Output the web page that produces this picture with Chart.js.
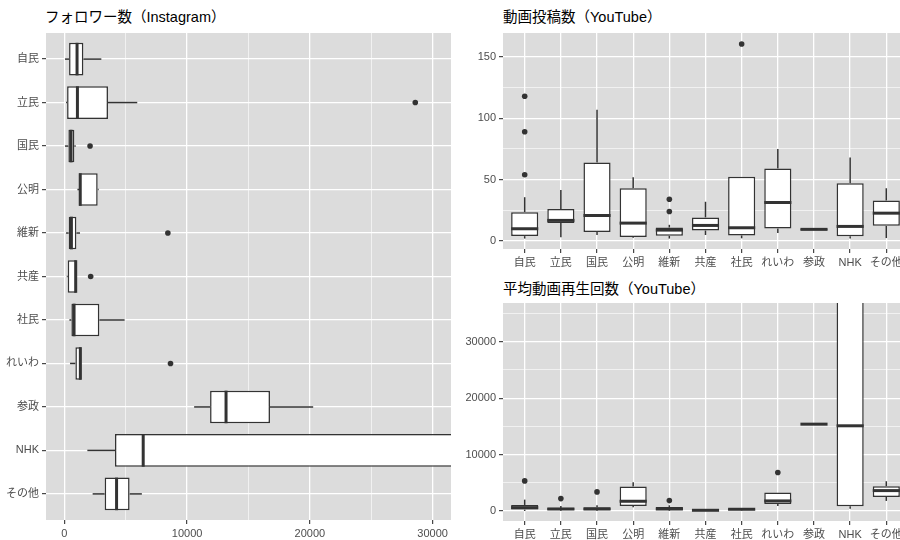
<!DOCTYPE html>
<html><head><meta charset="utf-8">
<script src="https://cdn.jsdelivr.net/npm/chart.js@4/dist/chart.umd.min.js"></script>
<style>
html,body{margin:0;padding:0;background:#fff;width:900px;height:540px;overflow:hidden;position:relative;}
canvas{position:absolute;}
.ttl{position:absolute;font-family:'Liberation Sans','Noto Sans CJK JP',sans-serif;font-size:14.5px;font-weight:normal;color:#000;white-space:nowrap;line-height:1;}
</style></head>
<body>
<div class="ttl" style="left:45px;top:10px;">フォロワー数（Instagram）</div>
<div class="ttl" style="left:503px;top:10px;">動画投稿数（YouTube）</div>
<div class="ttl" style="left:503px;top:282px;">平均動画再生回数（YouTube）</div>
<canvas id="c1" width="460" height="540" style="left:0;top:0;"></canvas>
<canvas id="c2" width="460" height="270" style="left:460px;top:0;"></canvas>
<canvas id="c3" width="460" height="270" style="left:460px;top:270px;"></canvas>
<script>
// ---- data ----
const parties = ['自民','立民','国民','公明','維新','共産','社民','れいわ','参政','NHK','その他'];

// Instagram followers (box stats)
const igLow  = [50, 135, 50, 1060, 135, 190, 405, 460, 10570, 1870, 2300];
const igQ1   = [380, 220, 325, 1190, 350, 270, 570, 895, 11870, 4120, 3280];
const igMed  = [1030, 1060, 540, 1290, 570, 920, 785, 1300, 13170, 6420, 4250];
const igQ3   = [1545, 3550, 810, 2710, 975, 975, 2845, 1380, 16750, 60000, 5310];
const igHigh = [3010, 5935, 920, 2790, 1270, 975, 4905, 1380, 20270, 90000, 6310];
const igOut  = [[], [28590], [2090], [], [8430], [2140], [], [8645], [], [], []];
const igTicks = [0, 10000, 20000, 30000];

// YouTube video posts
const ypLow  = [2, 3, 5, 2.7, 2, 4.9, 2.2, 6.5, 9, 2, 2.4];
const ypQ1   = [4, 14.6, 7.3, 3.2, 4.3, 8.6, 4.6, 10.3, 9, 3.8, 12.4];
const ypMed  = [10, 16.8, 20.8, 14.6, 8.9, 12.7, 10.8, 31.4, 9.5, 11.9, 22.7];
const ypQ3   = [23.5, 26, 64, 43, 11, 19.2, 52.4, 59, 10, 47, 33];
const ypHigh = [35.7, 41.6, 107, 52, 13.2, 32, 52.4, 75, 10, 68, 43];
const ypOut  = [[54, 89, 118], [], [], [], [24, 34], [], [160.5], [], [], [], []];
const ypTicks = [0, 50, 100, 150];

// YouTube average views
const yvLow  = [0, 0, 0, 650, 0, 0, 100, 890, 15390, 400, 1780];
const yvQ1   = [240, 120, 120, 890, 120, 60, 180, 1245, 15390, 830, 2490];
const yvMed  = [590, 355, 355, 1720, 355, 120, 300, 1780, 15390, 15100, 3610];
const yvQ3   = [1065, 530, 650, 4320, 710, 240, 410, 3260, 15390, 60000, 4380];
const yvHigh = [2010, 900, 1000, 5090, 1000, 300, 500, 3260, 15390, 90000, 5270];
const yvOut  = [[5330], [2190], [3375], [], [1835], [], [], [6810], [], [], []];
const yvTicks = [0, 10000, 20000, 30000];

// ---- styling ----
Chart.defaults.font.family = "'Liberation Sans','Noto Sans CJK JP',sans-serif";
Chart.defaults.font.size = 11;
Chart.defaults.color = '#4d4d4d';
Chart.defaults.devicePixelRatio = 1;
const PANEL = '#dcdcdc';
const LINE = '#333333';
const BOXW = 1.5;

const panelBg = {
  id: 'panelBg',
  beforeDraw(chart) {
    const a = chart.chartArea, c = chart.ctx;
    c.save(); c.fillStyle = PANEL; c.fillRect(a.left, a.top, a.right - a.left, a.bottom - a.top); c.restore();
  }
};

const boxLines = {
  id: 'boxLines',
  beforeDatasetsDraw(chart) { drawParts(chart, 'whisk'); },
  afterDatasetsDraw(chart) { drawParts(chart, 'median'); }
};
function segLine(c, hz, vS, v0, v1, p) {
  const a0 = vS.getPixelForValue(v0), a1 = vS.getPixelForValue(v1);
  c.beginPath();
  if (hz) { c.moveTo(a0, p); c.lineTo(a1, p); } else { c.moveTo(p, a0); c.lineTo(p, a1); }
  c.stroke();
}
function drawParts(chart, part) {
  const o = chart.options.plugins.boxLines; if (!o) return;
  const a = chart.chartArea, c = chart.ctx;
  const hz = o.horizontal;
  const iS = hz ? chart.scales.y : chart.scales.x;
  const vS = hz ? chart.scales.x : chart.scales.y;
  c.save();
  c.beginPath(); c.rect(a.left, a.top, a.right - a.left, a.bottom - a.top); c.clip();
  c.strokeStyle = LINE; c.lineCap = 'butt';
  for (let i = 0; i < o.med.length; i++) {
    const p = iS.getPixelForValue(i + 1);
    const p0 = iS.getPixelForValue(i + 1 - 0.375), p1 = iS.getPixelForValue(i + 1 + 0.375);
    if (part === 'whisk') {
      c.lineWidth = BOXW;
      if (o.low[i] < o.q1[i]) segLine(c, hz, vS, o.low[i], o.q1[i], p);
      if (o.high[i] > o.q3[i]) segLine(c, hz, vS, o.q3[i], o.high[i], p);
    } else {
      c.lineWidth = 3;
      const m = vS.getPixelForValue(o.med[i]);
      c.beginPath();
      if (hz) { c.moveTo(m, p0); c.lineTo(m, p1); } else { c.moveTo(p0, m); c.lineTo(p1, m); }
      c.stroke();
    }
  }
  c.restore();
}

function valueAxis(min, max, step, majors, extra) {
  return Object.assign({
    type: 'linear', min, max, offset: false,
    afterBuildTicks(s) {
      const t = [];
      for (let v = Math.ceil(min / step) * step; v <= max; v += step) t.push({ value: v });
      s.ticks = t;
    },
    ticks: { padding: 3, callback: v => majors.includes(v) ? String(v) : '', autoSkip: false, maxRotation: 0, minRotation: 0, color: '#4d4d4d' },
    grid: {
      offset: false,
      color: '#ffffff',
      lineWidth: ctx => majors.includes(ctx.tick && ctx.tick.value) ? 1.3 : 0.6,
      tickColor: ctx => majors.includes(ctx.tick && ctx.tick.value) ? LINE : 'rgba(0,0,0,0)',
      tickLength: 4, tickWidth: 1.1, drawTicks: true
    },
    border: { display: false }
  }, extra || {});
}
function catAxis(extra) {
  return Object.assign({
    type: 'linear', min: 0.4, max: 11.6, offset: false,
    afterBuildTicks(s) { s.ticks = parties.map((_, i) => ({ value: i + 1 })); },
    ticks: { padding: 3, autoSkip: false, maxRotation: 0, minRotation: 0, callback: v => parties[Math.round(v) - 1] || '', color: '#4d4d4d' },
    grid: { color: '#ffffff', lineWidth: 1.3, tickColor: LINE, tickLength: 4, tickWidth: 1.1, offset: false },
    border: { display: false }
  }, extra || {});
}
function fixFit(w, h) {
  return function (s) {
    if (w !== null) s.width = w;
    if (h !== null) s.height = h;
    s.paddingLeft = 0; s.paddingRight = 0; s.paddingTop = 0; s.paddingBottom = 0;
  };
}
function outPoints(out, hz) {
  const pts = [];
  out.forEach((arr, i) => arr.forEach(v => pts.push(hz ? { x: v, y: i + 1 } : { x: i + 1, y: v })));
  return pts;
}
function boxData(q1, q3, hz) {
  return q1.map((v, i) => hz ? { y: i + 1, x: [v, q3[i]] } : { x: i + 1, y: [v, q3[i]] });
}
function makeChart(id, cfg) {
  const hz = cfg.horizontal;
  return new Chart(document.getElementById(id), {
    type: 'bar',
    data: {
      datasets: [
        { type: 'bar', indexAxis: hz ? 'y' : 'x', data: boxData(cfg.q1, cfg.q3, hz),
          backgroundColor: '#ffffff', borderColor: LINE, borderWidth: BOXW, borderSkipped: false,
          barPercentage: 0.75, categoryPercentage: 1.0, grouped: false },
        { type: 'scatter', data: outPoints(cfg.out, hz), pointRadius: 2.8, pointBackgroundColor: LINE,
          pointBorderWidth: 0, pointBorderColor: LINE, showLine: false }
      ]
    },
    options: {
      responsive: false, animation: false,
      indexAxis: hz ? 'y' : 'x',
      layout: { padding: cfg.padding },
      plugins: { legend: { display: false }, tooltip: { enabled: false }, title: { display: false },
        boxLines: { horizontal: hz, low: cfg.low, q1: cfg.q1, med: cfg.med, q3: cfg.q3, high: cfg.high } },
      scales: cfg.scales
    },
    plugins: [panelBg, boxLines]
  });
}

// Left: Instagram (horizontal)
makeChart('c1', {
  horizontal: true, low: igLow, q1: igQ1, med: igMed, q3: igQ3, high: igHigh, out: igOut,
  padding: { top: 33, right: 9, left: 0, bottom: 0 },
  scales: {
    x: valueAxis(-1500, 31500, 5000, igTicks, { position: 'bottom', afterFit: fixFit(null, 20) }),
    y: catAxis({ reverse: true, position: 'left', afterFit: fixFit(46, null) })
  }
});
// Top right: posts (panel continues past the right edge of the page)
makeChart('c2', {
  horizontal: false, low: ypLow, q1: ypQ1, med: ypMed, q3: ypQ3, high: ypHigh, out: ypOut,
  padding: { top: 33, right: 12, left: 0, bottom: 0 },
  scales: {
    x: catAxis({ position: 'bottom', afterFit: fixFit(null, 21) }),
    y: valueAxis(-6.5, 169.5, 25, ypTicks, { position: 'left', afterFit: fixFit(43, null) })
  }
});
// Bottom right: views
makeChart('c3', {
  horizontal: false, low: yvLow, q1: yvQ1, med: yvMed, q3: yvQ3, high: yvHigh, out: yvOut,
  padding: { top: 33, right: 12, left: 0, bottom: 0 },
  scales: {
    x: catAxis({ position: 'bottom', afterFit: fixFit(null, 19) }),
    y: valueAxis(-1780, 36870, 5000, yvTicks, { position: 'left', afterFit: fixFit(43, null) })
  }
});
</script>
</body></html>
